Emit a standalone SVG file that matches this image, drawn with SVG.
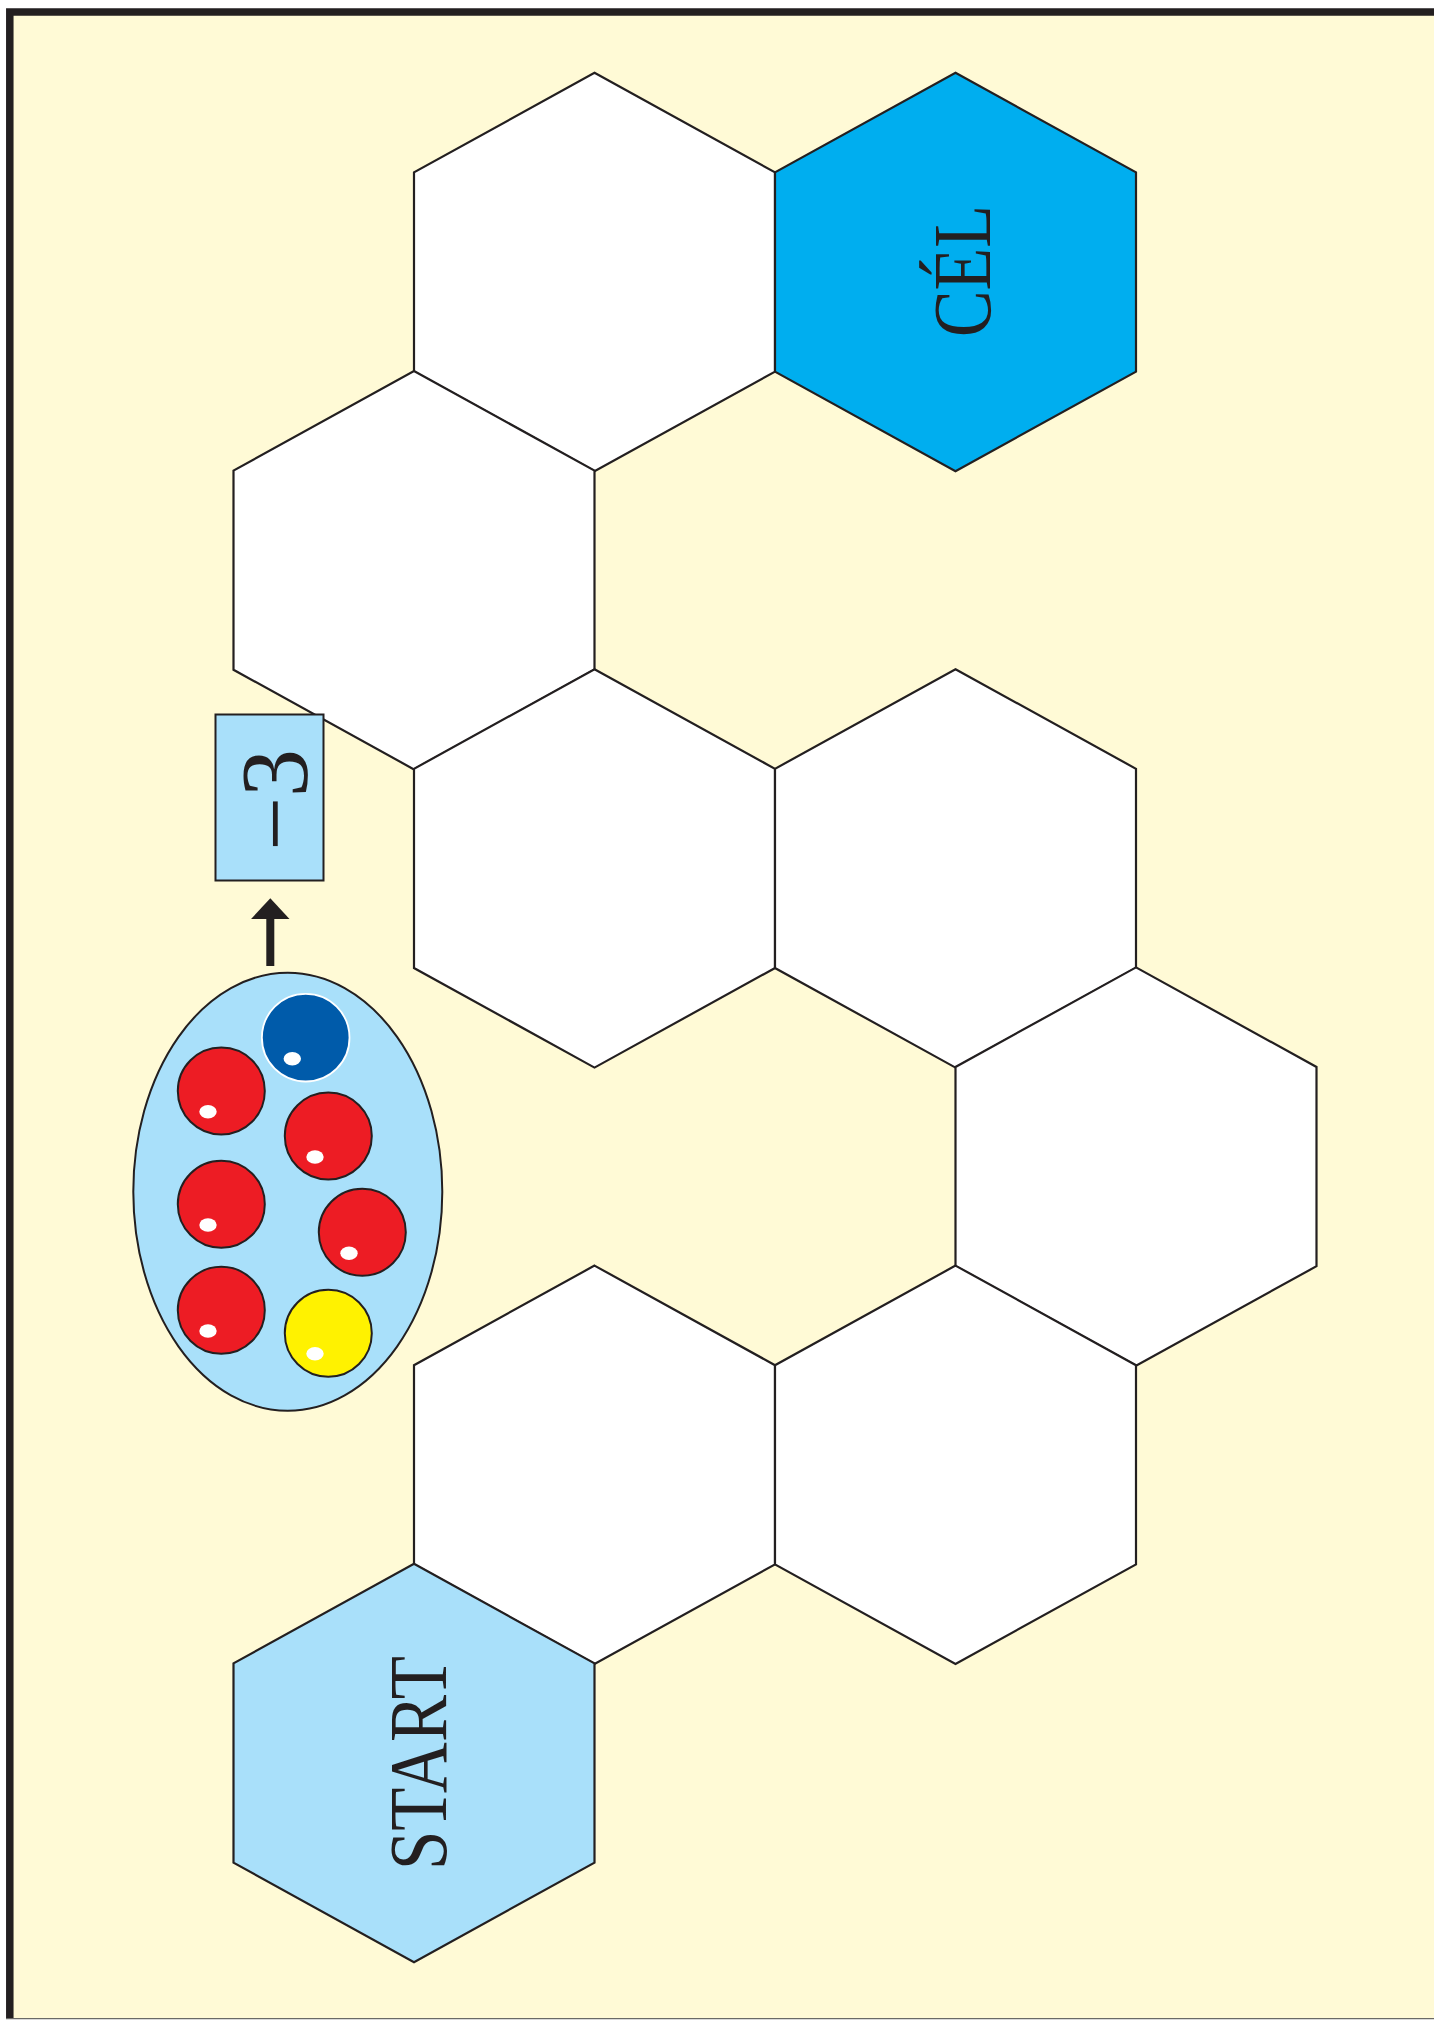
<svg xmlns="http://www.w3.org/2000/svg" xmlns:xlink="http://www.w3.org/1999/xlink" width="1434" height="2020" viewBox="0 0 1434 2020">
<style>
.hex{stroke:#231F20;stroke-width:2.2;stroke-linejoin:miter}
.white{fill:#FFFFFF}
.goal{fill:#00AEEF}
.start{fill:#A9E0FA}
.lbl{font-family:"Liberation Serif","Times New Roman",serif;fill:#231F20;text-anchor:middle}
.ball{stroke:#231F20;stroke-width:2}
.hl{fill:#FFFFFF}
</style>
<defs>
<polygon id="hexshape" points="0,-199.2 180.5,-99.6 180.5,99.6 0,199.2 -180.5,99.6 -180.5,-99.6"/>
</defs>
<rect x="9.5" y="12" width="1430" height="2006.5" fill="#FFFAD6"/>
<path d="M9.8,2018.5 V12 H1434" fill="none" stroke="#231F20" stroke-width="7.5"/>
<line x1="6" y1="2018.6" x2="1434" y2="2018.6" stroke="#6A6A66" stroke-width="1.2"/>

<g id="hex-r0-b"><use xlink:href="#hexshape" href="#hexshape" x="594.5" y="272" class="hex white"/></g>
<g id="hex-goal"><use xlink:href="#hexshape" href="#hexshape" x="955.5" y="272" class="hex goal"/>
<text class="lbl" font-size="82" textLength="132" lengthAdjust="spacingAndGlyphs" transform="translate(990,271) rotate(-90)">CÉL</text></g>
<g id="hex-r1-a"><use xlink:href="#hexshape" href="#hexshape" x="414" y="570.2" class="hex white"/></g>
<g id="hex-r2-b"><use xlink:href="#hexshape" href="#hexshape" x="594.5" y="868.4" class="hex white"/></g>
<g id="hex-r2-c"><use xlink:href="#hexshape" href="#hexshape" x="955.5" y="868.4" class="hex white"/></g>
<g id="hex-r3-d"><use xlink:href="#hexshape" href="#hexshape" x="1136" y="1166.6" class="hex white"/></g>
<g id="hex-r4-b"><use xlink:href="#hexshape" href="#hexshape" x="594.5" y="1464.8" class="hex white"/></g>
<g id="hex-r4-c"><use xlink:href="#hexshape" href="#hexshape" x="955.5" y="1464.8" class="hex white"/></g>
<g id="hex-start"><use xlink:href="#hexshape" href="#hexshape" x="414" y="1763" class="hex start"/>
<text class="lbl" font-size="82" textLength="214" lengthAdjust="spacingAndGlyphs" transform="translate(446,1763) rotate(-90)">START</text></g>

<g id="card">
<rect x="215.5" y="714.5" width="108" height="166" fill="#A9E0FA" stroke="#231F20" stroke-width="2"/>
<text class="lbl" font-size="96" transform="translate(307,800) rotate(-90)">−3</text>
</g>

<g id="bag">
<ellipse cx="287.8" cy="1191.7" rx="154.5" ry="219" fill="#A9E0FA" stroke="#231F20" stroke-width="2"/>
<circle cx="305.7" cy="1037.7" r="43.8" fill="#005BAA" stroke="#FFFFFF" stroke-width="1.8"/>
<ellipse class="hl" cx="292.3" cy="1058.7" rx="8.7" ry="6.7"/>
<circle class="ball" cx="221.3" cy="1091" r="43.5" fill="#ED1C24"/>
<ellipse class="hl" cx="208" cy="1111.7" rx="8.7" ry="6.7"/>
<circle class="ball" cx="328.3" cy="1136" r="43.5" fill="#ED1C24"/>
<ellipse class="hl" cx="315" cy="1157" rx="8.7" ry="6.7"/>
<circle class="ball" cx="221.3" cy="1204.3" r="43.5" fill="#ED1C24"/>
<ellipse class="hl" cx="208" cy="1225" rx="8.7" ry="6.7"/>
<circle class="ball" cx="362.3" cy="1232.3" r="43.5" fill="#ED1C24"/>
<ellipse class="hl" cx="349" cy="1253.3" rx="8.7" ry="6.7"/>
<circle class="ball" cx="221.3" cy="1310.3" r="43.5" fill="#ED1C24"/>
<ellipse class="hl" cx="208" cy="1331" rx="8.7" ry="6.7"/>
<circle class="ball" cx="328.3" cy="1333.3" r="43.5" fill="#FFF200"/>
<ellipse class="hl" cx="315" cy="1353.7" rx="8.7" ry="6.7"/>
</g>

<g id="connectors">
<rect x="266.3" y="916" width="8" height="50" fill="#231F20"/>
<polygon points="270.3,898.3 289.5,919 251.1,919" fill="#231F20"/>
</g>
</svg>
